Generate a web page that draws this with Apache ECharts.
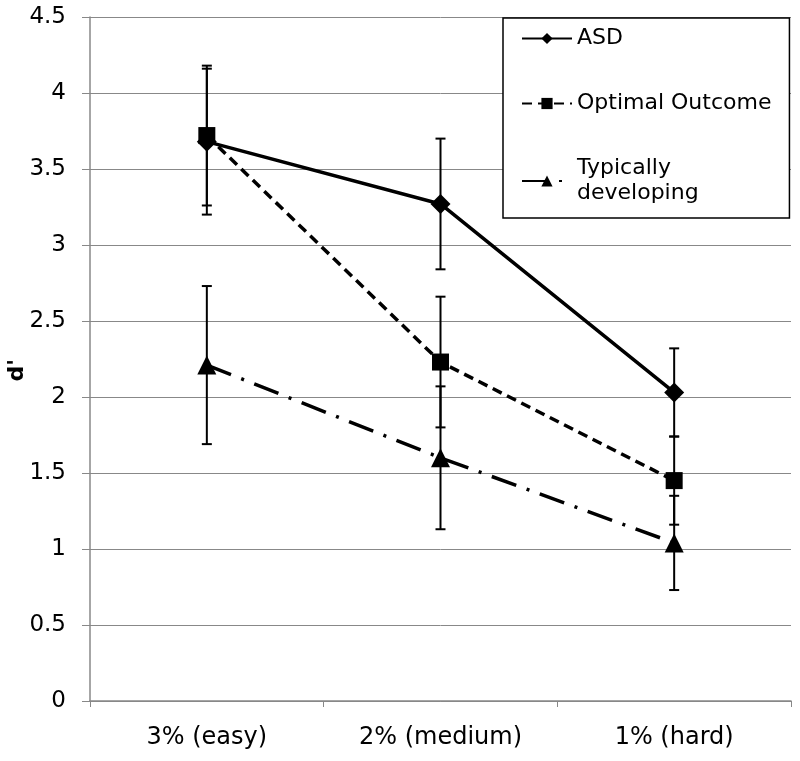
<!DOCTYPE html>
<html>
<head>
<meta charset="utf-8">
<script src="https://cdn.jsdelivr.net/npm/echarts@6/dist/echarts.min.js"></script>
<style>html,body{margin:0;padding:0;background:#fff}#c{width:800px;height:761px}</style>
</head>
<body>
<div id="c"></div>
<script>
var categories = ['3% (easy)', '2% (medium)', '1% (hard)'];
var asd = [3.68, 3.27, 2.03];
var asdErr = [0.48, 0.43, 0.29];
var oo = [3.72, 2.23, 1.45];
var ooErr = [0.46, 0.43, 0.29];
var td = [2.21, 1.60, 1.04];
var tdErr = [0.52, 0.47, 0.31];
var seriesNames = ['ASD', 'Optimal Outcome', 'Typically developing'];

var FONT = 'DejaVu Sans';
var chart = echarts.init(document.getElementById('c'));

function errSeries(vals, errs) {
  return {
    type: 'custom',
    silent: true,
    z: 5,
    data: vals.map(function (v, i) { return [i, v - errs[i], v + errs[i]]; }),
    renderItem: function (params, api) {
      var lo = api.coord([api.value(0), api.value(1)]);
      var hi = api.coord([api.value(0), api.value(2)]);
      var w = 5;
      var st = { stroke: '#000', lineWidth: 2 };
      return {
        type: 'group',
        children: [
          { type: 'line', shape: { x1: hi[0], y1: hi[1], x2: lo[0], y2: lo[1] }, style: st },
          { type: 'line', shape: { x1: hi[0] - w, y1: hi[1], x2: hi[0] + w, y2: hi[1] }, style: st },
          { type: 'line', shape: { x1: lo[0] - w, y1: lo[1], x2: lo[0] + w, y2: lo[1] }, style: st }
        ]
      };
    }
  };
}

chart.setOption({
  animation: false,
  backgroundColor: '#fff',
  grid: { left: 90, right: 9, top: 17, bottom: 60, containLabel: false, outerBoundsMode: 'none' },
  legend: {
    data: seriesNames,
    orient: 'vertical',
    left: 503,
    top: 18,
    width: 287,
    itemWidth: 50,
    itemHeight: 14,
    itemGap: 40,
    padding: [8, 18, 12, 18],
    borderColor: '#000',
    borderWidth: 1.5,
    backgroundColor: '#fff',
    textStyle: { fontFamily: FONT, fontSize: 22, color: '#000', lineHeight: 25 },
    formatter: function (n) { return n === 'Typically developing' ? 'Typically\ndeveloping' : n; }
  },
  xAxis: {
    type: 'category',
    data: categories,
    boundaryGap: true,
    axisLine: { lineStyle: { color: '#888', width: 1.5 } },
    axisTick: { show: true, length: 6, lineStyle: { color: '#888' } },
    axisLabel: { fontFamily: FONT, fontSize: 24, color: '#000', margin: 25 },
    splitLine: { show: false }
  },
  yAxis: {
    type: 'value',
    min: 0,
    max: 4.5,
    interval: 0.5,
    name: "d'",
    nameLocation: 'middle',
    nameGap: 62,
    nameMoveOverlap: false,
    nameTextStyle: { fontFamily: FONT, fontSize: 22, fontWeight: 'bold', color: '#000', align: 'right' },
    axisLine: { show: true, lineStyle: { color: '#888', width: 1.5 } },
    axisTick: { show: true, inside: false, length: 8, lineStyle: { color: '#888' } },
    axisLabel: { fontFamily: FONT, fontSize: 23, color: '#000', margin: 24 },
    splitLine: { show: true, lineStyle: { color: '#888', width: 1 } }
  },
  series: [
    {
      name: seriesNames[0], type: 'line', data: asd, z: 10,
      symbol: 'diamond', symbolSize: 20,
      itemStyle: { color: '#000' },
      lineStyle: { color: '#000', width: 3.5, type: 'solid' }
    },
    {
      name: seriesNames[1], type: 'line', data: oo, z: 10,
      symbol: 'rect', symbolSize: 17,
      itemStyle: { color: '#000' },
      lineStyle: { color: '#000', width: 3.5, type: [10, 6] }
    },
    {
      name: seriesNames[2], type: 'line', data: td, z: 10,
      symbol: 'triangle', symbolSize: 19,
      itemStyle: { color: '#000' },
      lineStyle: { color: '#000', width: 3.5, type: [26, 11, 3, 11] }
    },
    errSeries(asd, asdErr),
    errSeries(oo, ooErr),
    errSeries(td, tdErr)
  ]
});
</script>
</body>
</html>
